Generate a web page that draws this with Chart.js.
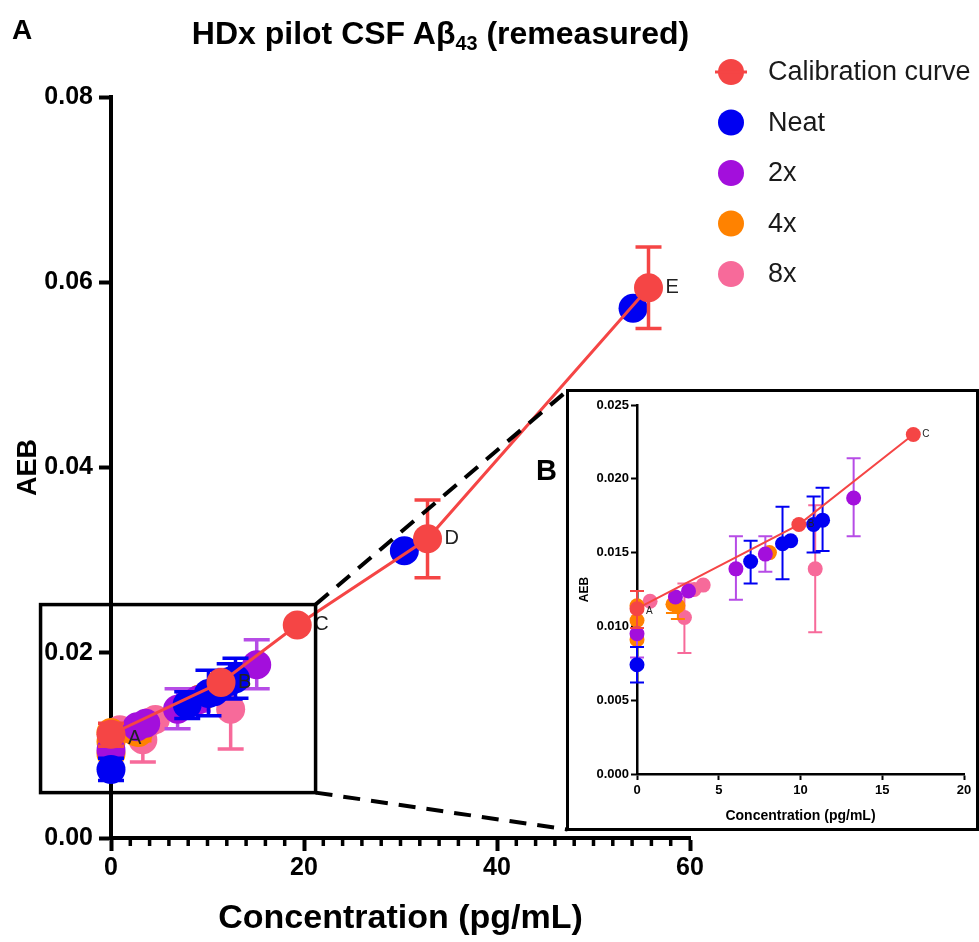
<!DOCTYPE html>
<html>
<head>
<meta charset="utf-8">
<title>HDx pilot CSF Aβ43 (remeasured)</title>
<script src="https://cdn.jsdelivr.net/npm/chart.js@4.4.1/dist/chart.umd.min.js"></script>
<style>
  html, body { margin: 0; padding: 0; background: #fff; }
  #page { position: relative; width: 979px; height: 942px; overflow: hidden;
          font-family: "Liberation Sans", Arial, sans-serif; color: #000; }
  #mainChart { position: absolute; left: 0; top: 0; }
  #title { position: absolute; left: 0; top: 15px; width: 881px; text-align: center;
           font-weight: bold; font-size: 32px; line-height: 36px; white-space: nowrap; }
  #title sub { font-size: 0.62em; vertical-align: -0.3em; line-height: 0; }
  .panel { position: absolute; font-weight: bold; line-height: 1; }
  #panelA { left: 12px; top: 16px; font-size: 28px; }
  #panelB { left: 536px; top: 456px; font-size: 29px; }
  #inset { position: absolute; left: 566px; top: 389px; width: 407px; height: 436px;
           border: 3px solid #000; background: #fff; }
  #insetChart { position: absolute; left: 0; top: 0; }
</style>
</head>
<body>
<div id="page">
  <canvas id="mainChart" width="979" height="942"></canvas>
  <div id="title">HDx pilot CSF Aβ<sub>43</sub> (remeasured)</div>
  <div class="panel" id="panelA">A</div>
  <div class="panel" id="panelB">B</div>
  <div id="inset"><canvas id="insetChart" width="407" height="436"></canvas></div>
</div>
<script>
// ---- series names / colours ----
const seriesNames = ['Calibration curve', 'Neat', '2x', '4x', '8x'];
const seriesColors = ['#F54545', '#0000F2', '#A30FDC', '#FF8200', '#F76A9A'];
const errorColors = ['#F54545', '#0000F2', '#B64CE6', '#FF8200', '#F76A9A'];
const calLabels = ['A', 'B', 'C', 'D', 'E'];

// ---- panel A: main plot (concentrations as they sit on the main axis) ----
const mainCalX = [0, 11.4, 19.3, 32.8, 55.7];
const mainCalY = [0.0112, 0.0168, 0.0230, 0.0323, 0.0594];
const mainCalLo = [0.0099, null, null, 0.0281, 0.0550];
const mainCalHi = [0.0124, null, null, 0.0365, 0.0638];

const mainNeatX = [0, 7.9, 10.1, 10.7, 12.3, 12.9, 30.4, 54.1];
const mainNeatY = [0.0074, 0.0144, 0.0156, 0.0158, 0.0169, 0.0172, 0.0310, 0.0572];
const mainNeatLo = [0.0062, 0.0129, 0.0132, null, 0.0150, 0.0151, null, null];
const mainNeatHi = [0.0086, 0.0158, 0.0181, null, 0.0188, 0.0194, null, null];

const main2xX = [0, 2.7, 3.6, 6.9, 9.0, 15.1];
const main2xY = [0.0095, 0.0120, 0.0124, 0.0139, 0.0149, 0.0187];
const main2xLo = [0.0079, null, null, 0.0118, 0.0137, 0.0161];
const main2xHi = [0.0111, null, null, 0.0161, 0.0161, 0.0214];

const main4xX = [0, 0, 0, 2.5, 2.85, 9.2];
const main4xY = [0.0114, 0.0104, 0.0091, 0.0115, 0.0114, 0.0150];
const main4xLo = [null, null, null, 0.0109, 0.0105, null];
const main4xHi = [null, null, null, null, null, null];

const main8xX = [0.9, 3.3, 4.0, 4.6, 12.4];
const main8xY = [0.0117, 0.0106, 0.0125, 0.0128, 0.0139];
const main8xLo = [null, 0.0082, null, null, 0.0096];
const main8xHi = [null, 0.0129, null, null, 0.0182];

// ---- panel B: inset ----
const insetCalX = [0, 9.9, 16.9];
const insetCalY = [0.0112, 0.0169, 0.0230];
const insetCalLo = [0.0099, null, null];
const insetCalHi = [0.0124, null, null];

const insetNeatX = [0, 6.95, 8.9, 9.4, 10.8, 11.35];
const insetNeatY = [0.0074, 0.0144, 0.0156, 0.0158, 0.0169, 0.0172];
const insetNeatLo = [0.0062, 0.0129, 0.0132, null, 0.0150, 0.0151];
const insetNeatHi = [0.0086, 0.0158, 0.0181, null, 0.0188, 0.0194];

const inset2xX = [0, 2.35, 3.15, 6.05, 7.85, 13.25];
const inset2xY = [0.0095, 0.0120, 0.0124, 0.0139, 0.0149, 0.0187];
const inset2xLo = [0.0079, null, null, 0.0118, 0.0137, 0.0161];
const inset2xHi = [0.0111, null, null, 0.0161, 0.0161, 0.0214];

const inset4xX = [0, 0, 0, 2.2, 2.5, 8.1];
const inset4xY = [0.0114, 0.0104, 0.0091, 0.0115, 0.0114, 0.0150];
const inset4xLo = [null, null, null, 0.0109, 0.0105, null];
const inset4xHi = [null, null, null, null, null, null];

const inset8xX = [0.8, 2.9, 3.5, 4.05, 10.9];
const inset8xY = [0.0117, 0.0106, 0.0125, 0.0128, 0.0139];
const inset8xLo = [null, 0.0082, null, null, 0.0096];
const inset8xHi = [null, 0.0129, null, null, 0.0182];

// zoomed region of panel A, in data units
const zoomBox = { xMin: -7.3, xMax: 21.2, yMin: 0.0049, yMax: 0.0252 };

const FONT = '"Liberation Sans", Arial, sans-serif';
Chart.defaults.font.family = FONT;
Chart.defaults.color = '#000';

function points(xs, ys) {
  return xs.map((x, i) => ({ x: x, y: ys[i] }));
}

function buildDatasets(series, radius, lineWidth) {
  return series.map((s, i) => ({
    label: seriesNames[i],
    data: points(s.x, s.y),
    errLo: s.lo,
    errHi: s.hi,
    errColor: errorColors[i],
    backgroundColor: seriesColors[i],
    borderColor: seriesColors[i],
    pointBackgroundColor: seriesColors[i],
    pointBorderWidth: 0,
    pointRadius: radius,
    pointHoverRadius: radius,
    showLine: i === 0,
    borderWidth: lineWidth,
    clip: false
  }));
}

// error bars, drawn just under their own series
const errorBars = {
  id: 'errorBars',
  beforeDatasetDraw(chart, args, opts) {
    const ds = chart.data.datasets[args.index];
    if (!ds.errLo) return;
    const xs = chart.scales.x, ys = chart.scales.y, ctx = chart.ctx;
    ctx.save();
    ctx.strokeStyle = ds.errColor;
    ctx.lineWidth = opts.width;
    ds.data.forEach((p, i) => {
      const lo = ds.errLo[i], hi = ds.errHi[i];
      if (lo == null && hi == null) return;
      const px = xs.getPixelForValue(p.x);
      const yLo = ys.getPixelForValue(lo == null ? p.y : lo);
      const yHi = ys.getPixelForValue(hi == null ? p.y : hi);
      ctx.beginPath();
      ctx.moveTo(px, yLo);
      ctx.lineTo(px, yHi);
      if (lo != null) { ctx.moveTo(px - opts.cap, yLo); ctx.lineTo(px + opts.cap, yLo); }
      if (hi != null) { ctx.moveTo(px - opts.cap, yHi); ctx.lineTo(px + opts.cap, yHi); }
      ctx.stroke();
    });
    ctx.restore();
  }
};

// A..E next to the calibration points
const calPointLabels = {
  id: 'calPointLabels',
  afterDatasetsDraw(chart, args, opts) {
    const meta = chart.getDatasetMeta(0);
    const ctx = chart.ctx;
    ctx.save();
    ctx.font = opts.size + 'px ' + FONT;
    ctx.fillStyle = '#222';
    ctx.textAlign = 'left';
    ctx.textBaseline = 'middle';
    meta.data.forEach((el, i) => {
      const dy = i === 0 ? opts.firstDy : 0;
      ctx.fillText(calLabels[i], el.x + opts.dx, el.y + dy);
    });
    ctx.restore();
  }
};

// minor ticks on the main x axis
const minorTicks = {
  id: 'minorTicks',
  afterDraw(chart) {
    const xs = chart.scales.x, ctx = chart.ctx;
    const y0 = chart.chartArea.bottom;
    ctx.save();
    ctx.strokeStyle = '#000';
    ctx.lineWidth = 3.5;
    ctx.beginPath();
    for (let v = 2; v < 60; v += 2) {
      if (v % 20 === 0) continue;
      const px = xs.getPixelForValue(v);
      ctx.moveTo(px, y0);
      ctx.lineTo(px, y0 + 8);
    }
    ctx.stroke();
    ctx.restore();
  }
};

// zoom rectangle and dashed connectors to the inset
const zoomMarker = {
  id: 'zoomMarker',
  afterDraw(chart) {
    const xs = chart.scales.x, ys = chart.scales.y, ctx = chart.ctx;
    const l = xs.getPixelForValue(zoomBox.xMin), r = xs.getPixelForValue(zoomBox.xMax);
    const t = ys.getPixelForValue(zoomBox.yMax), b = ys.getPixelForValue(zoomBox.yMin);
    const inset = document.getElementById('inset');
    const ix = inset.offsetLeft + 1.5;
    const iyTop = inset.offsetTop + 1.5;
    const iyBot = inset.offsetTop + inset.offsetHeight - 1.5;
    ctx.save();
    ctx.strokeStyle = '#000';
    ctx.lineWidth = 3.5;
    ctx.strokeRect(l, t, r - l, b - t);
    ctx.setLineDash([17, 11]);
    ctx.lineWidth = 4;
    ctx.beginPath();
    ctx.moveTo(r, t); ctx.lineTo(ix, iyTop);
    ctx.moveTo(r, b); ctx.lineTo(ix, iyBot);
    ctx.stroke();
    ctx.restore();
  }
};

// legend at the top right
const sideLegend = {
  id: 'sideLegend',
  afterDraw(chart) {
    const ctx = chart.ctx;
    const x0 = 731, y0 = 72, step = 50.5, r = 13;
    ctx.save();
    chart.data.datasets.forEach((ds, i) => {
      const cy = y0 + i * step;
      ctx.fillStyle = ds.backgroundColor;
      ctx.beginPath();
      ctx.arc(x0, cy, r, 0, Math.PI * 2);
      ctx.fill();
      if (ds.showLine) {
        ctx.strokeStyle = ds.borderColor;
        ctx.lineWidth = 3;
        ctx.beginPath();
        ctx.moveTo(x0 - 16, cy);
        ctx.lineTo(x0 + 16, cy);
        ctx.stroke();
      }
      ctx.fillStyle = '#1a1a1a';
      ctx.font = '27px ' + FONT;
      ctx.textAlign = 'left';
      ctx.textBaseline = 'middle';
      ctx.fillText(ds.label, 768, cy + 1);
    });
    ctx.restore();
  }
};

const mainSeries = [
  { x: mainCalX, y: mainCalY, lo: mainCalLo, hi: mainCalHi },
  { x: mainNeatX, y: mainNeatY, lo: mainNeatLo, hi: mainNeatHi },
  { x: main2xX, y: main2xY, lo: main2xLo, hi: main2xHi },
  { x: main4xX, y: main4xY, lo: main4xLo, hi: main4xHi },
  { x: main8xX, y: main8xY, lo: main8xLo, hi: main8xHi }
];

const insetSeries = [
  { x: insetCalX, y: insetCalY, lo: insetCalLo, hi: insetCalHi },
  { x: insetNeatX, y: insetNeatY, lo: insetNeatLo, hi: insetNeatHi },
  { x: inset2xX, y: inset2xY, lo: inset2xLo, hi: inset2xHi },
  { x: inset4xX, y: inset4xY, lo: inset4xLo, hi: inset4xHi },
  { x: inset8xX, y: inset8xY, lo: inset8xLo, hi: inset8xHi }
];

new Chart(document.getElementById('mainChart'), {
  type: 'scatter',
  data: { datasets: buildDatasets(mainSeries, 14.5, 3) },
  options: {
    responsive: false,
    animation: false,
    layout: { padding: { left: 0, right: 289, top: 97, bottom: 0 } },
    plugins: {
      legend: { display: false },
      tooltip: { enabled: false },
      errorBars: { width: 3.5, cap: 13 },
      calPointLabels: { size: 20, dx: 17, firstDy: 4 }
    },
    scales: {
      x: {
        type: 'linear', min: 0, max: 60,
        afterFit: s => { s.height = 104; },
        ticks: { stepSize: 20, maxRotation: 0, padding: 2,
                 font: { size: 25, weight: 'bold' }, color: '#000' },
        grid: { drawOnChartArea: false, tickLength: 13, tickWidth: 4, tickColor: '#000' },
        border: { display: true, color: '#000', width: 4 },
        title: { display: true, text: 'Concentration (pg/mL)', color: '#000',
                 font: { size: 34, weight: 'bold' }, padding: { top: 0, bottom: 3 } }
      },
      y: {
        type: 'linear', min: 0, max: 0.08,
        afterFit: s => { s.width = 111; },
        ticks: { stepSize: 0.02, padding: 6, callback: v => v.toFixed(2),
                 font: { size: 25, weight: 'bold' }, color: '#000' },
        grid: { drawOnChartArea: false, tickLength: 12, tickWidth: 4, tickColor: '#000' },
        border: { display: true, color: '#000', width: 4 },
        title: { display: true, text: 'AEB', color: '#000',
                 font: { size: 27, weight: 'bold' }, padding: { top: 12, bottom: 0 } }
      }
    }
  },
  plugins: [errorBars, calPointLabels, minorTicks, zoomMarker, sideLegend]
});

new Chart(document.getElementById('insetChart'), {
  type: 'scatter',
  data: { datasets: buildDatasets(insetSeries, 7.5, 2) },
  options: {
    responsive: false,
    animation: false,
    layout: { padding: { left: 0, right: 12, top: 13, bottom: 0 } },
    plugins: {
      legend: { display: false },
      tooltip: { enabled: false },
      errorBars: { width: 2, cap: 7 },
      calPointLabels: { size: 10, dx: 9, firstDy: 3 }
    },
    scales: {
      x: {
        type: 'linear', min: 0, max: 20,
        afterFit: s => { s.height = 54; },
        ticks: { stepSize: 5, maxRotation: 0, padding: 3,
                 font: { size: 13, weight: 'bold' }, color: '#000' },
        grid: { drawOnChartArea: false, tickLength: 6, tickWidth: 2, tickColor: '#000' },
        border: { display: true, color: '#000', width: 2.5 },
        title: { display: true, text: 'Concentration (pg/mL)', color: '#000',
                 font: { size: 14, weight: 'bold' }, padding: { top: 0, bottom: 3 } }
      },
      y: {
        type: 'linear', min: 0, max: 0.025,
        afterFit: s => { s.width = 68; },
        ticks: { stepSize: 0.005, padding: 2, callback: v => v.toFixed(3),
                 font: { size: 13, weight: 'bold' }, color: '#000' },
        grid: { drawOnChartArea: false, tickLength: 6, tickWidth: 2, tickColor: '#000' },
        border: { display: true, color: '#000', width: 2.5 },
        title: { display: true, text: 'AEB', color: '#000',
                 font: { size: 12, weight: 'bold' }, padding: { top: 8, bottom: 0 } }
      }
    }
  },
  plugins: [errorBars, calPointLabels]
});
</script>
</body>
</html>
